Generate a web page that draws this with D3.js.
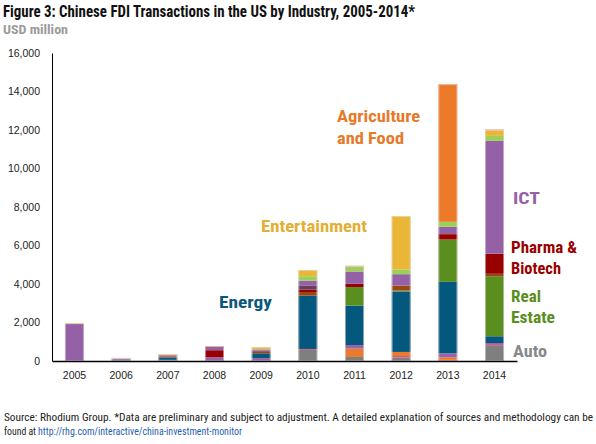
<!DOCTYPE html>
<html><head><meta charset="utf-8">
<script src="https://cdn.jsdelivr.net/npm/d3@7/dist/d3.min.js"></script>
<style>
html,body{margin:0;padding:0;background:#fff;}
svg{display:block;}
</style></head>
<body>
<svg id="chart" width="596" height="444"></svg>
<script>
const years = ["2005","2006","2007","2008","2009","2010","2011","2012","2013","2014"];
const yTicks = [0,2000,4000,6000,8000,10000,12000,14000,16000];

const auto          = [0,    0,  20,   0,   0, 575,  210,  190,    0,  785];
const aviation      = [0,    0,   0,   0,   0,  50,    0,   70,   60,   50];
const basicMat      = [0,    0,   0,   0,   0,   0,  430,  210,  130,    0];
const consumer      = [0,   30,  40, 200, 150,   0,  190,    0,  210,  100];
const energy        = [0,   40, 120,   0, 250,2770, 2050, 3140, 3710,  350];
const realEstate    = [0,    0,   0,   0,   0,   0,  960,   50, 2200, 3120];
const machinery     = [0,    0,  40,   0,  80, 190,    0,  260,    0,  125];
const pharma        = [0,    0,   0, 360,   0, 120,  170,    0,  280, 1045];
const electronics   = [0,    0,  30,   0,  60, 200,    0,    0,    0,    0];
const ict           = [1920, 60,  50, 170,  60, 270,  640,  590,  380, 5860];
const transport     = [0,    0,   0,   0,   0, 230,  250,  245,  260,  260];
const entertainment = [50,  30,  60,   0, 120, 320,    0, 2770,    0,  280];
const agriculture   = [0,    0,   0,  50,   0,   0,    0,    0, 7150,    0];
const other         = [0,    0,   0,   0,   0,   0,   50,    0,    0,   60];

const seriesNames = ["Auto","Aviation","Basic Materials","Consumer Products","Energy","Real Estate",
  "Industrial Machinery","Pharma & Biotech","Electronics","ICT","Transport","Entertainment",
  "Agriculture and Food","Other"];
const seriesValues = [auto,aviation,basicMat,consumer,energy,realEstate,machinery,pharma,
  electronics,ict,transport,entertainment,agriculture,other];
const seriesColors = ["#7f7f7f","#d65a78","#ec7a2c","#9a64a8","#04587d","#5a8f1f",
  "#9a4714","#990000","#6a3d5c","#9461a6","#9bd158","#e9b735","#ed7a29","#f2a07a"];

const rows = years.map((yr,i)=>{
  const r = {year: yr};
  seriesNames.forEach((n,k)=>{ r[n] = seriesValues[k][i]; });
  return r;
});

const svg = d3.select("#chart");
const FONT = "'Liberation Sans Narrow','Arial Narrow','Roboto Condensed',Roboto,sans-serif";
const AX = "'Liberation Sans',Arial,sans-serif";

const x = d3.scaleBand().domain(years).range([52,517]).paddingInner(0.593).paddingOuter(0.278);
const y = d3.scaleLinear().domain([0,16000]).range([361,53]);

const stacked = d3.stack().keys(seriesNames)(rows);

svg.append("g").selectAll("g").data(stacked).join("g")
  .attr("fill",(d,i)=>seriesColors[i])
  .selectAll("rect").data(d=>d).join("rect")
  .attr("x",d=>x(d.data.year))
  .attr("width",x.bandwidth())
  .attr("y",d=>y(d[1]))
  .attr("height",d=>Math.max(0,y(d[0])-y(d[1])));

// faint bar outline
const total = d=>d3.sum(seriesNames,n=>d[n]);
svg.append("g").selectAll("rect").data(rows).join("rect")
  .attr("x",d=>x(d.year)+0.5)
  .attr("width",x.bandwidth()-1)
  .attr("y",d=>y(total(d))+0.5)
  .attr("height",d=>Math.max(0,y(0)-y(total(d))-1))
  .attr("fill","none").attr("stroke","rgba(235,220,235,0.55)").attr("stroke-width",1);

// y axis
const yAxis = d3.axisLeft(y).tickValues(yTicks).tickSize(0).tickPadding(12)
  .tickFormat(d3.format(","));
const gy = svg.append("g").attr("transform","translate(52,0)").call(yAxis);
gy.select(".domain").attr("stroke","#000").attr("stroke-width",1);
gy.selectAll("text").attr("font-family",AX).attr("font-size",10.5).attr("fill","#222");

// x axis
const xAxis = d3.axisBottom(x).tickSize(0).tickPadding(11);
const gx = svg.append("g").attr("transform","translate(0,361)").call(xAxis);
gx.select(".domain").attr("stroke","#000").attr("stroke-width",1.5);
gx.selectAll("text").attr("font-family",AX).attr("font-size",10.5).attr("fill","#222");

// title
svg.append("text").attr("x",3).attr("y",17)
  .attr("font-family",FONT).attr("font-weight","bold").attr("font-size",16).attr("fill","#111")
  .attr("textLength",412).attr("lengthAdjust","spacingAndGlyphs")
  .text("Figure 3: Chinese FDI Transactions in the US by Industry, 2005-2014*");
svg.append("text").attr("x",3).attr("y",34)
  .attr("font-family",FONT).attr("font-weight","bold").attr("font-size",12).attr("fill","#9a9a9a")
  .attr("textLength",65).attr("lengthAdjust","spacingAndGlyphs")
  .text("USD million");

// annotations
const notes = [
  {t:"Agriculture", x:337, y:122, w:83, c:"#e57a2b"},
  {t:"and Food", x:337, y:144, w:67, c:"#e57a2b"},
  {t:"Entertainment", x:261, y:232, w:106, c:"#e2af35"},
  {t:"Energy", x:219, y:308, w:53, c:"#0b587c"},
  {t:"ICT", x:513, y:204, w:27, c:"#9461a6"},
  {t:"Pharma &", x:511, y:253, w:66, c:"#990000"},
  {t:"Biotech", x:511, y:274, w:50, c:"#990000"},
  {t:"Real", x:511, y:302, w:30, c:"#5a8f1f"},
  {t:"Estate", x:511, y:323, w:44, c:"#5a8f1f"},
  {t:"Auto", x:513, y:357, w:34, c:"#888888"}
];
svg.append("g").selectAll("text").data(notes).join("text")
  .attr("x",d=>d.x).attr("y",d=>d.y)
  .attr("font-family",FONT).attr("font-weight","bold").attr("font-size",17)
  .attr("fill",d=>d.c)
  .attr("textLength",d=>d.w).attr("lengthAdjust","spacingAndGlyphs")
  .text(d=>d.t);

// footer
svg.append("text").attr("x",4).attr("y",421)
  .attr("font-family",FONT).attr("font-size",11).attr("fill","#222")
  .attr("textLength",589).attr("lengthAdjust","spacingAndGlyphs")
  .text("Source: Rhodium Group. *Data are preliminary and subject to adjustment. A detailed explanation of sources and methodology can be");
svg.append("text").attr("x",4).attr("y",435)
  .attr("font-family",FONT).attr("font-size",11).attr("fill","#222")
  .attr("textLength",32).attr("lengthAdjust","spacingAndGlyphs")
  .text("found at");
svg.append("text").attr("x",38).attr("y",435)
  .attr("font-family",FONT).attr("font-size",11).attr("fill","#1f5fb0")
  .attr("textLength",204).attr("lengthAdjust","spacingAndGlyphs")
  .text("http://rhg.com/interactive/china-investment-monitor");
</script>
</body></html>
